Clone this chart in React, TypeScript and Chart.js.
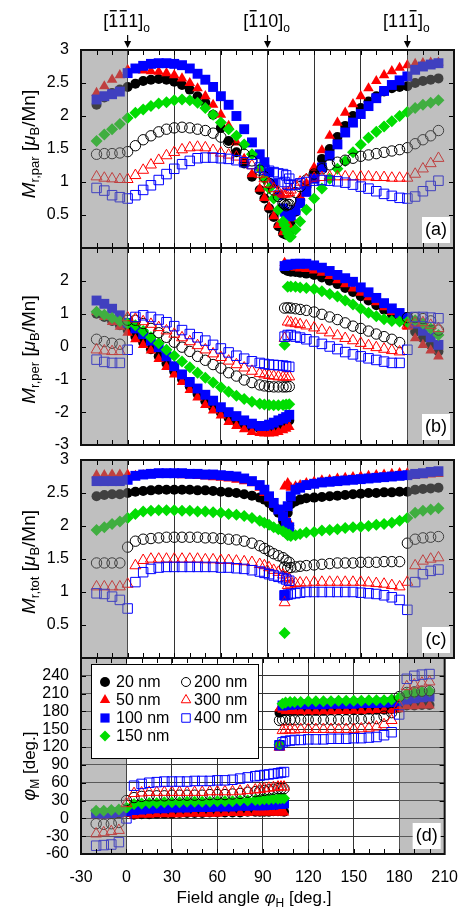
import React, { useEffect, useRef } from 'react';
import { Chart, registerables } from 'chart.js';
import { drawPoint } from 'chart.js/helpers';

Chart.register(...registerables);

const FONT = "'Liberation Sans', Arial, Helvetica, sans-serif";
Chart.defaults.font.family = FONT;
Chart.defaults.color = '#000';

// ---------- data ----------
const X_LEFT = [-20, -15, -10, -5, 0, 5, 10, 15, 20, 25, 30, 35, 40, 45, 50, 55, 60, 65, 70, 75, 80, 85, 88, 91, 94, 97, 100, 102, 104];
const X_RIGHT = [101, 103, 105, 108, 111, 115, 120, 125, 130, 135, 140, 145, 150, 155, 160, 165, 170, 175, 180, 185, 190, 195, 200];

const SERIES_LABELS = ['20 nm', '50 nm', '100 nm', '150 nm', '200 nm', '300 nm', '400 nm'];

const X_TICKS = [-30, 0, 30, 60, 90, 120, 150, 180, 210];
const TOP_LABELS = ['[111]', '[110]', '[111]'];
const TOP_LABEL_X = [0, 90, 180];

// (a) M_r,par
const PAR_20_L = [2.17, 2.28, 2.35, 2.40, 2.44, 2.49, 2.53, 2.55, 2.56, 2.55, 2.52, 2.47, 2.40, 2.30, 2.20, 2.02, 1.82, 1.62, 1.45, 1.28, 1.08, 0.88, 0.75, 0.60, 0.47, 0.33, 0.22, 0.20, 0.25];
const PAR_20_R = [0.24, 0.30, 0.40, 0.55, 0.72, 0.92, 1.15, 1.35, 1.50, 1.68, 1.85, 2.00, 2.12, 2.22, 2.30, 2.37, 2.42, 2.44, 2.45, 2.50, 2.53, 2.55, 2.57];
const PAR_50_L = [2.35, 2.45, 2.55, 2.62, 2.70, 2.70, 2.69, 2.68, 2.67, 2.65, 2.62, 2.57, 2.50, 2.42, 2.30, 2.17, 2.02, 1.85, 1.60, 1.35, 1.12, 0.90, 0.76, 0.62, 0.48, 0.35, 0.24, 0.26, 0.33];
const PAR_50_R = [0.27, 0.35, 0.45, 0.60, 0.78, 0.98, 1.22, 1.48, 1.70, 1.90, 2.05, 2.18, 2.30, 2.42, 2.53, 2.62, 2.68, 2.73, 2.77, 2.79, 2.80, 2.81, 2.81];
const PAR_100_L = [2.25, 2.30, 2.33, 2.37, 2.65, 2.72, 2.76, 2.79, 2.80, 2.80, 2.79, 2.77, 2.72, 2.64, 2.55, 2.44, 2.30, 2.17, 2.00, 1.80, 1.60, 1.42, 1.30, 1.15, 0.98, 0.80, 0.60, 0.50, 0.48];
const PAR_100_R = [0.55, 0.50, 0.50, 0.57, 0.68, 0.85, 1.05, 1.22, 1.40, 1.57, 1.75, 1.90, 2.03, 2.15, 2.27, 2.38, 2.47, 2.54, 2.60, 2.70, 2.75, 2.78, 2.80];
const PAR_150_L = [1.62, 1.72, 1.80, 1.88, 1.97, 2.05, 2.10, 2.15, 2.19, 2.21, 2.24, 2.25, 2.24, 2.20, 2.12, 2.02, 1.90, 1.80, 1.70, 1.57, 1.42, 1.20, 1.05, 0.90, 0.75, 0.58, 0.40, 0.28, 0.17];
const PAR_150_R = [0.35, 0.22, 0.17, 0.28, 0.40, 0.58, 0.75, 0.90, 1.05, 1.20, 1.32, 1.45, 1.57, 1.67, 1.76, 1.84, 1.92, 2.00, 2.06, 2.12, 2.17, 2.20, 2.24];
const PAR_200_L = [1.42, 1.43, 1.43, 1.44, 1.46, 1.55, 1.64, 1.70, 1.76, 1.80, 1.82, 1.83, 1.82, 1.80, 1.78, 1.74, 1.68, 1.60, 1.50, 1.42, 1.32, 1.18, 1.08, 0.98, 0.88, 0.78, 0.68, 0.64, 0.66];
const PAR_200_R = [0.66, 0.66, 0.72, 0.84, 0.93, 1.03, 1.12, 1.20, 1.26, 1.30, 1.33, 1.36, 1.39, 1.41, 1.43, 1.45, 1.47, 1.49, 1.52, 1.58, 1.64, 1.70, 1.78];
const PAR_300_L = [1.08, 1.06, 1.05, 1.04, 1.04, 1.10, 1.18, 1.26, 1.33, 1.40, 1.45, 1.49, 1.52, 1.53, 1.52, 1.48, 1.44, 1.41, 1.38, 1.33, 1.25, 1.12, 1.05, 0.97, 0.90, 0.85, 0.82, 0.82, 0.84];
const PAR_300_R = [0.82, 0.84, 0.88, 0.95, 1.00, 1.04, 1.06, 1.07, 1.08, 1.08, 1.08, 1.08, 1.08, 1.08, 1.07, 1.07, 1.06, 1.06, 1.06, 1.12, 1.20, 1.28, 1.36];
const PAR_400_L = [0.91, 0.87, 0.80, 0.77, 0.75, 0.80, 0.88, 0.95, 1.03, 1.12, 1.20, 1.27, 1.32, 1.36, 1.37, 1.37, 1.36, 1.35, 1.33, 1.30, 1.27, 1.22, 1.19, 1.17, 1.15, 1.13, 1.12, 1.10, 1.05];
const PAR_400_R = [1.00, 0.96, 0.95, 0.96, 0.98, 1.00, 1.02, 1.03, 1.02, 1.01, 0.99, 0.96, 0.93, 0.90, 0.86, 0.82, 0.79, 0.76, 0.75, 0.78, 0.86, 0.94, 1.02];

// (b) M_r,per
const PER_20_L = [1.00, 0.90, 0.78, 0.65, 0.50, 0.30, 0.12, -0.08, -0.30, -0.52, -0.76, -1.00, -1.22, -1.45, -1.67, -1.85, -2.02, -2.18, -2.30, -2.40, -2.47, -2.50, -2.50, -2.48, -2.45, -2.40, -2.35, -2.30, -2.25];
const PER_20_R = [2.35, 2.30, 2.28, 2.27, 2.25, 2.22, 2.18, 2.10, 2.00, 1.90, 1.78, 1.66, 1.53, 1.40, 1.26, 1.12, 0.98, 0.84, 0.70, 0.45, 0.25, 0.05, -0.15];
const PER_50_L = [1.05, 0.90, 0.75, 0.60, 0.42, 0.22, 0.05, -0.12, -0.38, -0.62, -0.85, -1.08, -1.32, -1.55, -1.78, -1.95, -2.10, -2.30, -2.42, -2.52, -2.60, -2.63, -2.65, -2.65, -2.64, -2.60, -2.55, -2.50, -2.45];
const PER_50_R = [2.55, 2.45, 2.42, 2.40, 2.38, 2.36, 2.32, 2.25, 2.15, 2.02, 1.90, 1.77, 1.64, 1.50, 1.35, 1.20, 1.05, 0.85, 0.60, 0.25, 0.05, -0.12, -0.30];
const PER_100_L = [1.40, 1.30, 1.15, 0.95, 0.72, 0.55, 0.38, 0.18, -0.02, -0.30, -0.60, -0.85, -1.08, -1.28, -1.47, -1.65, -1.85, -2.00, -2.12, -2.25, -2.35, -2.42, -2.42, -2.38, -2.32, -2.25, -2.20, -2.15, -2.08];
const PER_100_R = [2.45, 2.48, 2.50, 2.52, 2.52, 2.52, 2.47, 2.40, 2.30, 2.18, 2.08, 1.97, 1.80, 1.65, 1.48, 1.32, 1.16, 1.02, 0.90, 0.70, 0.48, 0.28, 0.05];
const PER_150_L = [1.06, 0.97, 0.87, 0.77, 0.70, 0.65, 0.47, 0.28, 0.10, -0.10, -0.28, -0.46, -0.63, -0.80, -0.95, -1.10, -1.24, -1.38, -1.50, -1.60, -1.68, -1.74, -1.77, -1.78, -1.79, -1.79, -1.78, -1.77, -1.76];
const PER_150_R = [0.05, 1.82, 1.83, 1.82, 1.80, 1.78, 1.75, 1.68, 1.60, 1.52, 1.40, 1.28, 1.15, 1.03, 0.92, 0.83, 0.78, 0.76, 0.75, 0.80, 0.70, 0.55, 0.35];
const PER_200_L = [0.22, 0.15, 0.10, 0.07, 0.80, 0.80, 0.70, 0.55, 0.42, 0.28, 0.13, -0.02, -0.15, -0.30, -0.42, -0.55, -0.66, -0.80, -0.90, -1.02, -1.10, -1.17, -1.20, -1.22, -1.23, -1.23, -1.23, -1.23, -1.22];
const PER_200_R = [1.17, 1.18, 1.17, 1.15, 1.13, 1.10, 1.05, 0.98, 0.90, 0.82, 0.72, 0.62, 0.55, 0.47, 0.38, 0.30, 0.22, 0.12, 0.88, 0.88, 0.85, 0.78, 0.50];
const PER_300_L = [-0.10, -0.13, -0.15, -0.15, 0.88, 0.84, 0.76, 0.68, 0.58, 0.48, 0.38, 0.27, 0.15, 0.03, -0.10, -0.22, -0.33, -0.44, -0.55, -0.65, -0.75, -0.82, -0.86, -0.88, -0.90, -0.92, -0.93, -0.93, -0.92];
const PER_300_R = [0.25, 0.75, 0.72, 0.70, 0.67, 0.63, 0.57, 0.50, 0.42, 0.33, 0.25, 0.18, 0.10, 0.03, -0.03, -0.08, -0.12, -0.16, 0.65, 0.72, 0.73, 0.65, 0.55];
const PER_400_L = [-0.40, -0.47, -0.50, -0.50, -0.10, 0.90, 0.95, 0.90, 0.82, 0.74, 0.62, 0.50, 0.38, 0.28, 0.18, 0.05, -0.06, -0.18, -0.28, -0.37, -0.45, -0.50, -0.53, -0.55, -0.56, -0.57, -0.58, -0.60, -0.62];
const PER_400_R = [0.30, 0.35, 0.35, 0.30, 0.27, 0.22, 0.15, 0.08, 0.00, -0.08, -0.17, -0.24, -0.30, -0.36, -0.41, -0.46, -0.50, -0.50, -0.10, 0.90, 0.90, 0.88, 0.86];

// (c) M_r,tot
const TOT_20_L = [2.45, 2.47, 2.48, 2.48, 2.50, 2.52, 2.53, 2.54, 2.55, 2.55, 2.55, 2.55, 2.55, 2.54, 2.54, 2.53, 2.52, 2.51, 2.50, 2.48, 2.46, 2.43, 2.40, 2.35, 2.28, 2.20, 2.08, 2.00, 1.96];
const TOT_20_R = [2.02, 2.20, 2.33, 2.37, 2.40, 2.42, 2.43, 2.44, 2.45, 2.46, 2.47, 2.48, 2.49, 2.50, 2.50, 2.51, 2.51, 2.52, 2.52, 2.55, 2.56, 2.57, 2.58];
const TOT_50_L = [2.77, 2.77, 2.78, 2.78, 2.78, 2.76, 2.77, 2.78, 2.78, 2.78, 2.78, 2.77, 2.77, 2.76, 2.75, 2.74, 2.73, 2.72, 2.70, 2.68, 2.65, 2.58, 2.50, 2.42, 2.33, 2.25, 2.18, 2.10, 2.05];
const TOT_50_R = [2.60, 2.65, 2.58, 2.60, 2.62, 2.65, 2.67, 2.69, 2.70, 2.72, 2.73, 2.74, 2.75, 2.76, 2.77, 2.78, 2.79, 2.80, 2.80, 2.76, 2.77, 2.78, 2.79];
const TOT_100_L = [2.68, 2.68, 2.68, 2.68, 2.70, 2.76, 2.78, 2.79, 2.80, 2.80, 2.80, 2.80, 2.79, 2.79, 2.78, 2.78, 2.77, 2.76, 2.75, 2.72, 2.68, 2.62, 2.55, 2.45, 2.35, 2.25, 2.15, 2.05, 1.98];
const TOT_100_R = [0.95, 2.30, 2.45, 2.55, 2.58, 2.62, 2.64, 2.66, 2.67, 2.68, 2.69, 2.70, 2.71, 2.72, 2.73, 2.74, 2.75, 2.76, 2.77, 2.79, 2.80, 2.82, 2.83];
const TOT_150_L = [1.94, 1.98, 2.03, 2.07, 2.12, 2.18, 2.22, 2.23, 2.24, 2.24, 2.24, 2.23, 2.23, 2.22, 2.22, 2.21, 2.20, 2.18, 2.17, 2.15, 2.12, 2.08, 2.05, 2.02, 1.98, 1.95, 1.92, 1.89, 1.87];
const TOT_150_R = [0.38, 1.86, 1.85, 1.86, 1.88, 1.90, 1.91, 1.93, 1.94, 1.95, 1.97, 1.98, 1.99, 2.00, 2.02, 2.03, 2.05, 2.08, 2.12, 2.20, 2.23, 2.25, 2.27];
const TOT_200_L = [1.44, 1.44, 1.44, 1.44, 1.68, 1.77, 1.80, 1.81, 1.82, 1.83, 1.83, 1.83, 1.83, 1.83, 1.82, 1.82, 1.81, 1.80, 1.79, 1.77, 1.74, 1.70, 1.66, 1.62, 1.58, 1.55, 1.52, 1.48, 1.45];
const TOT_200_R = [1.38, 1.36, 1.37, 1.38, 1.39, 1.40, 1.41, 1.42, 1.43, 1.44, 1.44, 1.44, 1.45, 1.45, 1.45, 1.46, 1.46, 1.46, 1.74, 1.80, 1.82, 1.83, 1.84];
const TOT_300_L = [1.08, 1.08, 1.08, 1.08, 1.12, 1.40, 1.48, 1.50, 1.50, 1.50, 1.50, 1.50, 1.50, 1.50, 1.49, 1.49, 1.48, 1.48, 1.47, 1.46, 1.45, 1.42, 1.40, 1.37, 1.33, 1.30, 1.26, 1.22, 1.20];
const TOT_300_R = [0.84, 1.10, 1.12, 1.13, 1.14, 1.14, 1.15, 1.15, 1.15, 1.15, 1.15, 1.15, 1.15, 1.14, 1.13, 1.12, 1.10, 1.08, 1.15, 1.40, 1.47, 1.50, 1.52];
const TOT_400_L = [0.98, 0.97, 0.93, 0.88, 0.75, 1.15, 1.30, 1.35, 1.37, 1.38, 1.38, 1.38, 1.38, 1.38, 1.38, 1.38, 1.37, 1.37, 1.36, 1.35, 1.33, 1.31, 1.29, 1.27, 1.25, 1.23, 1.21, 1.19, 1.17];
const TOT_400_R = [0.95, 0.96, 0.97, 0.98, 0.99, 1.00, 1.00, 1.00, 1.00, 1.00, 1.00, 1.00, 0.99, 0.98, 0.97, 0.95, 0.92, 0.88, 0.73, 1.15, 1.27, 1.32, 1.34];

// (d) phi_M
const PHI_20_L = [8, 8, 9, 9, 10, 6, 7, 7, 8, 8, 8, 9, 9, 9, 9, 10, 10, 10, 10, 10, 11, 11, 11, 11, 11, 12, 12, 12, 11];
const PHI_20_R = [178, 180, 181, 181, 181, 181, 181, 181, 181, 182, 182, 182, 182, 182, 183, 183, 183, 184, 186, 190, 190, 191, 191];
const PHI_50_L = [5, 5, 6, 6, 8, 5, 6, 6, 7, 7, 7, 7, 8, 8, 8, 8, 8, 9, 9, 9, 9, 10, 10, 10, 10, 10, 10, 10, 10];
const PHI_50_R = [185, 183, 180, 180, 180, 180, 180, 180, 180, 180, 181, 181, 181, 181, 181, 182, 182, 182, 184, 189, 189, 190, 190];
const PHI_100_L = [8, 8, 9, 10, 12, 14, 15, 16, 17, 17, 18, 18, 18, 19, 19, 19, 20, 20, 20, 21, 21, 22, 22, 22, 23, 23, 24, 24, 25];
const PHI_100_R = [123, 190, 191, 191, 192, 192, 192, 192, 192, 193, 193, 193, 193, 194, 194, 194, 195, 195, 197, 200, 202, 204, 205];
const PHI_150_L = [13, 13, 14, 15, 18, 24, 25, 26, 26, 27, 27, 27, 28, 28, 28, 28, 29, 29, 29, 30, 30, 31, 31, 32, 32, 33, 33, 34, 34];
const PHI_150_R = [124, 193, 195, 196, 196, 196, 197, 197, 197, 197, 198, 198, 198, 198, 199, 199, 199, 200, 203, 210, 212, 213, 214];
const PHI_200_L = [-9, -10, -9, -7, 30, 35, 37, 38, 38, 38, 39, 39, 39, 39, 39, 40, 40, 40, 41, 42, 44, 45, 46, 47, 48, 49, 50, 50, 50];
const PHI_200_R = [165, 166, 166, 166, 166, 166, 166, 166, 166, 166, 166, 166, 167, 167, 168, 168, 172, 178, 205, 212, 213, 214, 215];
const PHI_300_L = [-26, -24, -22, -20, 25, 42, 43, 44, 44, 44, 44, 44, 44, 44, 44, 45, 45, 45, 45, 46, 47, 48, 49, 50, 51, 52, 53, 53, 53];
const PHI_300_R = [120, 148, 149, 149, 149, 150, 150, 150, 150, 150, 150, 150, 150, 151, 152, 154, 158, 165, 190, 222, 225, 228, 230];
const PHI_400_L = [-46, -45, -44, -40, 0, 55, 58, 60, 61, 62, 62, 62, 62, 63, 63, 63, 64, 64, 65, 67, 69, 71, 72, 73, 74, 75, 76, 77, 78];
const PHI_400_R = [123, 128, 130, 131, 132, 132, 133, 133, 133, 134, 134, 134, 135, 135, 136, 137, 140, 145, 175, 235, 240, 242, 243];

// ---------- styles ----------
type Style = { pointStyle: string; radius: number; color: string; open: boolean; legendRadius: number };
const STYLES: Style[] = [
  { pointStyle: 'circle', radius: 5, color: '#000000', open: false, legendRadius: 5 },
  { pointStyle: 'triangle', radius: 6.1, color: '#ff0000', open: false, legendRadius: 6 },
  { pointStyle: 'rect', radius: 7, color: '#0000ff', open: false, legendRadius: 6.5 },
  { pointStyle: 'rectRot', radius: 6, color: '#00dd00', open: false, legendRadius: 5.5 },
  { pointStyle: 'circle', radius: 5.2, color: '#000000', open: true, legendRadius: 4.5 },
  { pointStyle: 'triangle', radius: 6.3, color: '#ff0000', open: true, legendRadius: 5.5 },
  { pointStyle: 'rect', radius: 6.7, color: '#0000ff', open: true, legendRadius: 6 },
];

type Seg = { t: string; size: number; italic?: boolean; dy?: number; bar?: boolean };

type Panel = {
  key: string;
  top: number;
  bottom: number;
  min: number;
  max: number;
  step: number;
  hide: number[];
  series: number[][][];
  title: Seg[];
  titleOffset: number;
  label: string;
};

const PANELS: Panel[] = [
  {
    key: 'a', top: 50, bottom: 248, min: 0, max: 3, step: 0.5, hide: [0],
    series: [[PAR_20_L, PAR_20_R], [PAR_50_L, PAR_50_R], [PAR_100_L, PAR_100_R], [PAR_150_L, PAR_150_R], [PAR_200_L, PAR_200_R], [PAR_300_L, PAR_300_R], [PAR_400_L, PAR_400_R]],
    title: [{ t: 'M', size: 19, italic: true }, { t: 'r,par', size: 13, dy: 4 }, { t: ' [', size: 19 }, { t: 'μ', size: 19, italic: true }, { t: 'B', size: 13, dy: 4 }, { t: '/Mn]', size: 19 }],
    titleOffset: -5, label: '(a)',
  },
  {
    key: 'b', top: 248, bottom: 445, min: -3, max: 3, step: 1, hide: [3],
    series: [[PER_20_L, PER_20_R], [PER_50_L, PER_50_R], [PER_100_L, PER_100_R], [PER_150_L, PER_150_R], [PER_200_L, PER_200_R], [PER_300_L, PER_300_R], [PER_400_L, PER_400_R]],
    title: [{ t: 'M', size: 19, italic: true }, { t: 'r,per', size: 13, dy: 4 }, { t: ' [', size: 19 }, { t: 'μ', size: 19, italic: true }, { t: 'B', size: 13, dy: 4 }, { t: '/Mn]', size: 19 }],
    titleOffset: 3, label: '(b)',
  },
  {
    key: 'c', top: 460, bottom: 658, min: 0, max: 3, step: 0.5, hide: [0],
    series: [[TOT_20_L, TOT_20_R], [TOT_50_L, TOT_50_R], [TOT_100_L, TOT_100_R], [TOT_150_L, TOT_150_R], [TOT_200_L, TOT_200_R], [TOT_300_L, TOT_300_R], [TOT_400_L, TOT_400_R]],
    title: [{ t: 'M', size: 19, italic: true }, { t: 'r,tot', size: 13, dy: 4 }, { t: ' [', size: 19 }, { t: 'μ', size: 19, italic: true }, { t: 'B', size: 13, dy: 4 }, { t: '/Mn]', size: 19 }],
    titleOffset: 3, label: '(c)',
  },
  {
    key: 'd', top: 658, bottom: 854, min: -60, max: 270, step: 30, hide: [270],
    series: [[PHI_20_L, PHI_20_R], [PHI_50_L, PHI_50_R], [PHI_100_L, PHI_100_R], [PHI_150_L, PHI_150_R], [PHI_200_L, PHI_200_R], [PHI_300_L, PHI_300_R], [PHI_400_L, PHI_400_R]],
    title: [{ t: 'φ', size: 18, italic: true }, { t: 'M', size: 12, dy: 4 }, { t: ' [deg.]', size: 17 }],
    titleOffset: 10, label: '(d)',
  },
];

const W = 472;
const H = 909;

function fnt(size: number, italic?: boolean) {
  return `${italic ? 'italic ' : ''}${size}px ${FONT}`;
}

function drawSegs(ctx: CanvasRenderingContext2D, segs: Seg[], x: number, y: number, rotate: boolean) {
  ctx.save();
  ctx.translate(x, y);
  if (rotate) ctx.rotate(-Math.PI / 2);
  ctx.textAlign = 'left';
  ctx.textBaseline = 'alphabetic';
  ctx.fillStyle = '#000';
  const widths = segs.map((s) => {
    ctx.font = fnt(s.size, s.italic);
    return ctx.measureText(s.t).width;
  });
  const total = widths.reduce((a, b) => a + b, 0);
  let cx = -total / 2;
  segs.forEach((s, i) => {
    ctx.font = fnt(s.size, s.italic);
    ctx.fillText(s.t, cx, s.dy || 0);
    if (s.bar) ctx.fillRect(cx + 1.5, -s.size * 0.72 - 4, widths[i] - 3, 1.4);
    cx += widths[i];
  });
  ctx.restore();
}

// overbar flags for the three direction labels
const TOP_BARS = [[false, true, true, false], [false, true, false, false], [false, false, false, true]];

function labelSegs(text: string, bars: boolean[]): Seg[] {
  const segs: Seg[] = [];
  let digit = 0;
  text.split('').forEach((ch) => {
    if (ch >= '0' && ch <= '9') {
      digit += 1;
      segs.push({ t: ch, size: 18, bar: bars[digit] });
    } else {
      segs.push({ t: ch, size: 18 });
    }
  });
  segs.push({ t: 'o', size: 12, dy: 5 });
  return segs;
}

function panelPlugin(p: Panel) {
  return {
    id: 'panelDecor' + p.key,
    afterDatasetsDraw(chart: any) {
      const ctx: CanvasRenderingContext2D = chart.ctx;
      const a = chart.chartArea;
      const xs = chart.scales.x;
      const ys = chart.scales.y;
      ctx.save();
      // grey shaded ranges
      const x0 = xs.getPixelForValue(0);
      const x180 = xs.getPixelForValue(180);
      ctx.fillStyle = 'rgba(128,128,128,0.5)';
      ctx.fillRect(a.left, a.top, x0 - a.left, a.bottom - a.top);
      ctx.fillRect(x180, a.top, a.right - x180, a.bottom - a.top);
      // minor x ticks (inward)
      ctx.strokeStyle = '#000';
      ctx.lineWidth = 1;
      ctx.beginPath();
      for (let v = -20; v <= 200; v += 10) {
        const px = Math.round(xs.getPixelForValue(v)) + 0.5;
        ctx.moveTo(px, a.top);
        ctx.lineTo(px, a.top + 5);
        ctx.moveTo(px, a.bottom);
        ctx.lineTo(px, a.bottom - 5);
      }
      // y ticks (inward)
      ys.ticks.forEach((t: any) => {
        const py = Math.round(ys.getPixelForValue(t.value)) + 0.5;
        ctx.moveTo(a.left, py);
        ctx.lineTo(a.left + 5, py);
        ctx.moveTo(a.right, py);
        ctx.lineTo(a.right - 5, py);
      });
      ctx.stroke();
      // frame
      ctx.lineWidth = 2;
      ctx.strokeStyle = '#111';
      ctx.strokeRect(a.left, a.top, a.right - a.left, a.bottom - a.top);
      // panel label
      ctx.fillStyle = '#fff';
      ctx.fillRect(a.right - 32, a.bottom - 31, 28, 26);
      ctx.fillStyle = '#000';
      ctx.font = fnt(18);
      ctx.textAlign = 'center';
      ctx.textBaseline = 'middle';
      ctx.fillText(p.label, a.right - 18, a.bottom - 18);
      // y title
      drawSegs(ctx, p.title, 35, (a.top + a.bottom) / 2 + p.titleOffset, true);

      if (p.key === 'a') {
        TOP_LABELS.forEach((txt, i) => {
          const px = xs.getPixelForValue(TOP_LABEL_X[i]);
          drawSegs(ctx, labelSegs(txt, TOP_BARS[i]), px - 1, 27, false);
          ctx.strokeStyle = '#000';
          ctx.lineWidth = 1.2;
          ctx.beginPath();
          ctx.moveTo(px, 35);
          ctx.lineTo(px, 43);
          ctx.stroke();
          ctx.fillStyle = '#000';
          ctx.beginPath();
          ctx.moveTo(px - 3.5, 41);
          ctx.lineTo(px + 3.5, 41);
          ctx.lineTo(px, 48);
          ctx.closePath();
          ctx.fill();
        });
      }

      if (p.key === 'd') {
        // legend
        const lx = a.left + 10;
        const ly = a.top + 6;
        ctx.fillStyle = '#fff';
        ctx.fillRect(lx, ly, 168, 95);
        ctx.strokeStyle = '#000';
        ctx.lineWidth = 1;
        ctx.strokeRect(lx + 0.5, ly + 0.5, 167, 94);
        const rows = [24, 42, 60, 78];
        SERIES_LABELS.forEach((lab, i) => {
          const col = i < 4 ? 0 : 1;
          const row = i < 4 ? i : i - 4;
          const mx = a.left + (col === 0 ? 24 : 105);
          const tx = a.left + (col === 0 ? 35 : 113);
          const my = a.top + rows[row];
          const st = STYLES[i];
          ctx.fillStyle = st.open ? '#fff' : st.color;
          ctx.strokeStyle = st.color;
          ctx.lineWidth = 1;
          drawPoint(ctx, { pointStyle: st.pointStyle as any, radius: st.legendRadius, rotation: 0, borderWidth: st.open ? 1 : 0 } as any, mx, my);
          ctx.fillStyle = '#000';
          ctx.font = fnt(16);
          ctx.textAlign = 'left';
          ctx.textBaseline = 'middle';
          ctx.fillText(lab, tx, my + 1);
        });
        // x title
        drawSegs(ctx, [{ t: 'Field angle ', size: 17 }, { t: 'φ', size: 17, italic: true }, { t: 'H', size: 12, dy: 4 }, { t: ' [deg.]', size: 17 }], 254, 903, false);
      }
      ctx.restore();
    },
  };
}

function buildConfig(p: Panel): any {
  const isD = p.key === 'd';
  return {
    type: 'scatter',
    data: {
      datasets: SERIES_LABELS.map((label, i) => {
        const st = STYLES[i];
        const [L, R] = p.series[i];
        return {
          label,
          data: [
            ...X_LEFT.map((x, j) => ({ x, y: L[j] })),
            ...X_RIGHT.map((x, j) => ({ x, y: R[j] })),
          ],
          showLine: false,
          pointStyle: st.pointStyle,
          pointRadius: st.radius,
          pointHoverRadius: st.radius,
          pointBackgroundColor: st.open ? 'rgba(0,0,0,0)' : st.color,
          pointBorderColor: st.color,
          pointBorderWidth: st.open ? 1 : 0,
          order: 10 - i,
        };
      }),
    },
    options: {
      responsive: false,
      animation: false,
      devicePixelRatio: 1,
      events: [],
      layout: { padding: { left: 0, right: 18, top: p.top, bottom: isD ? 0 : H - p.bottom } },
      plugins: { legend: { display: false }, tooltip: { enabled: false }, title: { display: false } },
      scales: {
        x: {
          type: 'linear',
          position: 'bottom',
          min: -30,
          max: 210,
          afterBuildTicks: (s: any) => { s.ticks = X_TICKS.map((v) => ({ value: v })); },
          ticks: { display: isD, autoSkip: false, padding: 14, font: { size: 16 }, color: '#000', maxRotation: 0, callback: (v: any) => String(v) },
          grid: {
            color: (c: any) => (c.tick && c.tick.value > -30 && c.tick.value < 210 ? '#333' : 'rgba(0,0,0,0)'),
            lineWidth: 1,
            drawTicks: false,
          },
          border: { display: false },
          afterFit: (s: any) => { s.height = isD ? H - p.bottom : 0; },
        },
        y: {
          type: 'linear',
          min: p.min,
          max: p.max,
          ticks: {
            stepSize: p.step,
            autoSkip: false,
            padding: 12,
            font: { size: 16 },
            color: '#000',
            callback: (v: any) => (p.hide.includes(Number(v)) ? '' : String(v)),
          },
          grid: {
            display: isD,
            color: (c: any) => (c.tick && c.tick.value > p.min && c.tick.value < p.max ? '#333' : 'rgba(0,0,0,0)'),
            lineWidth: 1,
            drawTicks: false,
          },
          border: { display: false },
          afterFit: (s: any) => { s.width = 81; },
        },
      },
    },
    plugins: [panelPlugin(p)],
  };
}

export default function App() {
  const refs = useRef<(HTMLCanvasElement | null)[]>([]);
  useEffect(() => {
    const charts = PANELS.map((p, i) => new Chart(refs.current[i] as HTMLCanvasElement, buildConfig(p)));
    return () => charts.forEach((c) => c.destroy());
  }, []);
  return (
    <div style={{ position: 'absolute', left: 0, top: 0, width: W, height: H, background: '#fff' }}>
      {PANELS.map((p, i) => (
        <canvas
          key={p.key}
          ref={(el) => { refs.current[i] = el; }}
          width={W}
          height={H}
          style={{ position: 'absolute', left: 0, top: 0, width: W, height: H }}
        />
      ))}
    </div>
  );
}
